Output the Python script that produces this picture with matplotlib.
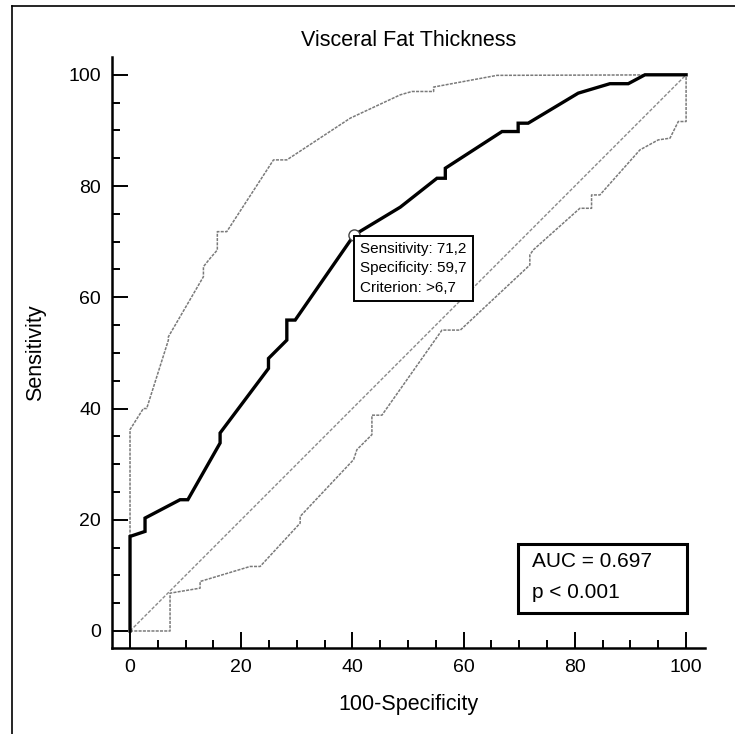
import matplotlib
matplotlib.use("Agg")
import matplotlib.pyplot as plt
from matplotlib.patches import Rectangle
from matplotlib.lines import Line2D
from matplotlib.ticker import MultipleLocator

plt.rcParams['font.family'] = ['Liberation Sans', 'DejaVu Sans']

# ---- data ----
roc_x = [0, 0, 2.7, 2.7, 9, 10.4, 16.2, 16.2, 24.9, 24.9, 28.2, 28.2, 29.7, 40.3, 48.6,
         55.2, 56.7, 56.7, 66.9, 69.8, 69.8, 71.6, 80.6, 86.3, 89.6, 92.6, 100]
roc_y = [0, 17, 17.9, 20.3, 23.6, 23.6, 33.8, 35.6, 47.2, 49, 52.3, 55.9, 55.9, 71.2, 76.2,
         81.4, 81.4, 83.2, 89.8, 89.8, 91.3, 91.3, 96.7, 98.4, 98.4, 100, 100]

upper_x = [0, 0, 2.4, 3, 6.9, 6.9, 13.2, 13.2, 14.4, 15.7, 15.7, 17.4, 25.8, 28.2, 39.6,
           48.6, 50.7, 54.6, 54.6, 66, 100]
upper_y = [0, 36.2, 40, 40, 52.3, 52.9, 63.7, 65.5, 67, 68.5, 71.8, 71.8, 84.7, 84.7, 92.2,
           96.4, 97, 97, 97.8, 99.9, 100]

lower_x = [0, 7.2, 7.2, 12.6, 12.6, 21.6, 23.4, 30.6, 30.6, 40.2, 40.8, 43.5, 43.5, 45.3,
           56.1, 59.4, 71.9, 71.9, 72.5, 80.9, 83, 83, 84.5, 91.7, 95, 97.1, 98.6, 100, 100]
lower_y = [0, 0, 6.8, 7.7, 8.9, 11.6, 11.6, 19.4, 20.6, 30.8, 32.6, 35.3, 38.8, 38.8,
           54.1, 54.1, 65.8, 67.6, 68.5, 76, 76, 78.4, 78.4, 86.5, 88.3, 88.6, 91.6, 91.6, 100]

ref_x = [0, 100]
ref_y = [0, 100]

cut_x, cut_y = 40.3, 71.2
cut_sens, cut_spec, cut_crit = "71,2", "59,7", ">6,7"
auc_text = "AUC = 0.697"
p_text = "p < 0.001"

ticks = [0, 20, 40, 60, 80, 100]
title = "Visceral Fat Thickness"
xlabel = "100-Specificity"
ylabel = "Sensitivity"

# ---- figure ----
W, H = 735, 734
fig = plt.figure(figsize=(W / 100, H / 100), dpi=100)
L, R, T, B = 112, 705, 57, 648
ax = fig.add_axes([L / W, 1 - B / H, (R - L) / W, (B - T) / H])

ax.plot(ref_x, ref_y, color='#8a8a8a', lw=1.0, ls=(0, (2.5, 1.2)), zorder=2)
ax.plot(upper_x, upper_y, color='#7a7a7a', lw=1.1, ls=(0, (2, 0.8)), zorder=2)
ax.plot(lower_x, lower_y, color='#7a7a7a', lw=1.1, ls=(0, (2, 0.8)), zorder=2)
ax.plot(roc_x, roc_y, color='black', lw=2.4, solid_joinstyle='miter', zorder=3)
ax.plot([cut_x], [cut_y], marker='o', ms=8, mfc='white', mec='#444444', mew=1.0, zorder=4)

ax.annotate(f"Sensitivity: {cut_sens}\nSpecificity: {cut_spec}\nCriterion: {cut_crit}",
            xy=(cut_x, cut_y), xytext=(6, -7), textcoords='offset pixels',
            ha='left', va='top', fontsize=11, linespacing=1.5, zorder=5,
            bbox=dict(boxstyle='square,pad=0.4', fc='white', ec='black', lw=1.4))

# AUC box
ax.add_patch(Rectangle((0.685, 0.059), 0.285, 0.117, transform=ax.transAxes,
                       fill=False, ec='black', lw=2.2, zorder=5))
ax.text(0.708, 0.147, auc_text, transform=ax.transAxes, fontsize=15, va='center', ha='left')
ax.text(0.708, 0.094, p_text, transform=ax.transAxes, fontsize=15, va='center', ha='left')

ax.set_xlim(-3.24, 103.4)
ax.set_ylim(-3.06, 103.2)
for s in ['top', 'right']:
    ax.spines[s].set_visible(False)
for s in ['left', 'bottom']:
    ax.spines[s].set_linewidth(1.8)

ax.set_xticks(ticks)
ax.set_yticks(ticks)
ax.xaxis.set_minor_locator(MultipleLocator(5))
ax.yaxis.set_minor_locator(MultipleLocator(5))
ax.tick_params(which='major', direction='in', length=11.5, width=1.4, labelsize=14, pad=8)
ax.tick_params(which='minor', direction='in', length=5.8, width=1.4)

ax.set_title(title, fontsize=15.5, pad=8)
ax.set_xlabel(xlabel, fontsize=15.5, labelpad=13)
ax.set_ylabel(ylabel, fontsize=15.5, labelpad=16)

# outer frame (top and left edges)
fig.add_artist(Line2D([12 / W, 12 / W], [0, 1 - 6 / H], transform=fig.transFigure, color='black', lw=1.2))
fig.add_artist(Line2D([12 / W, 1], [1 - 6 / H, 1 - 6 / H], transform=fig.transFigure, color='black', lw=1.2))

fig.savefig("out.png", dpi=100)
